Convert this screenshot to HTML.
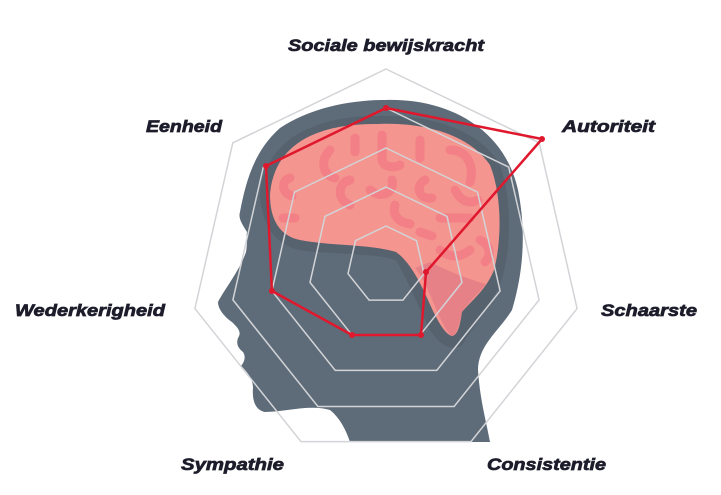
<!DOCTYPE html>
<html><head><meta charset="utf-8"><style>html,body{margin:0;padding:0;background:#fff}svg{display:block}</style></head>
<body>
<svg width="721" height="495" viewBox="0 0 721 495" xmlns="http://www.w3.org/2000/svg">
<path fill="#5e6b78" d="M385,100 C450,98 505,130 518,190 C526,230 524,270 512,310 C500,330 478,345 478,370 C480,400 486,420 490,442 L350,442 C346,430 340,418 330,410 C310,404 285,412 265,412 C255,410 252,400 253,388 C253,380 248,372 241,366 C246,360 245,355 243,352 C238,348 236,344 238,338 C242,332 238,328 232,322 C226,318 218,310 218,302 C224,290 240,270 246,252 C248,240 246,236 247,232 C242,224 238,218 240,212 C246,180 255,150 280,128 C310,108 350,100 385,100 Z"/>
<path fill="#56626e" d="M378,116 C430,114 480,130 500,165 C512,200 512,250 500,285 C490,305 475,325 462,345 C452,352 440,345 430,330 C420,310 410,285 396,260 C370,252 330,255 300,250 C275,245 262,225 260,195 C262,165 280,140 310,128 C335,118 355,116 378,116 Z"/>
<path fill="#f4958f" d="M378,124 C425,122 470,135 490,165 C502,195 502,240 494,270 C486,290 472,300 462,312 C460,325 458,335 452,336 C444,334 436,318 428,300 C420,282 410,262 396,252 C370,244 330,246 300,240 C280,236 270,220 270,195 C272,168 285,148 310,136 C332,126 355,124 378,124 Z"/>
<path fill="#e37c86" d="M415,268 C425,280 432,300 440,318 C446,330 450,336 453,336 C458,332 460,320 462,312 C470,300 480,292 486,284 C470,280 450,272 430,262 Z" opacity="0.8"/>
<g stroke="#f27a84" stroke-width="9" stroke-linecap="round" fill="none" opacity="0.75">
<path d="M330,150 C320,160 322,175 335,178"/>
<path d="M355,138 L355,152"/>
<path d="M382,135 L382,160 C384,168 395,168 400,165"/>
<path d="M420,140 L420,158"/>
<path d="M450,150 C470,150 474,170 470,182"/>
<path d="M290,178 C282,180 280,192 292,196"/>
<path d="M350,180 C338,182 336,200 350,205"/>
<path d="M370,190 C382,200 395,192 392,180"/>
<path d="M425,180 C415,185 418,200 432,198"/>
<path d="M455,190 C460,200 468,205 478,200"/>
<path d="M395,205 C392,215 398,222 410,224"/>
<path d="M440,218 L470,218"/>
<path d="M283,218 L295,218"/>
<path d="M480,240 C490,245 492,255 485,262"/>
<path d="M440,250 C450,258 460,258 470,250"/>
<path d="M420,232 L432,236"/>
</g>
<g fill="none" stroke="#d2d4d7" stroke-width="1.5">
<polygon points="386,69 539.2,142.8 577.1,308.6 471,441.6 301,441.6 194.9,308.6 232.8,142.8"/>
<polygon points="386,108 508.7,167.1 539.1,299.9 454.1,406.5 317.9,406.5 232.9,299.9 263.3,167.1"/>
<polygon points="386,148 477.5,192.1 500.1,291 436.8,370.4 335.2,370.4 271.9,291 294.5,192.1"/>
<polygon points="386,187 447,216.4 462,282.4 419.8,335.3 352.2,335.3 310,282.4 325,216.4"/>
<polygon points="386,226 416.5,240.7 424,273.7 402.9,300.1 369.1,300.1 348,273.7 355.5,240.7"/>
</g>
<g fill="#e0182d">
<polygon points="386,108 542,139 426,272 421,335 352,335 271.9,291 266,166" fill="none" stroke="#e0182d" stroke-width="2.5" stroke-linejoin="round"/>
<circle cx="386" cy="108" r="3"/><circle cx="542" cy="139" r="3"/><circle cx="426" cy="272" r="3"/><circle cx="421" cy="335" r="3"/><circle cx="352" cy="335" r="3"/><circle cx="271.9" cy="291" r="3"/><circle cx="266" cy="166" r="3"/>
</g>
<g font-family="Liberation Sans, sans-serif" font-weight="bold" font-style="italic" font-size="17" fill="#1c1c2b" stroke="#1c1c2b" stroke-width="0.7">
<text x="288" y="51" textLength="196" lengthAdjust="spacingAndGlyphs">Sociale bewijskracht</text>
<text x="562" y="132" textLength="93" lengthAdjust="spacingAndGlyphs">Autoriteit</text>
<text x="146" y="132" textLength="76" lengthAdjust="spacingAndGlyphs">Eenheid</text>
<text x="15" y="316" textLength="150" lengthAdjust="spacingAndGlyphs">Wederkerigheid</text>
<text x="601" y="316" textLength="96" lengthAdjust="spacingAndGlyphs">Schaarste</text>
<text x="181" y="470" textLength="103" lengthAdjust="spacingAndGlyphs">Sympathie</text>
<text x="487" y="470" textLength="119" lengthAdjust="spacingAndGlyphs">Consistentie</text>
</g>
</svg>
</body></html>
